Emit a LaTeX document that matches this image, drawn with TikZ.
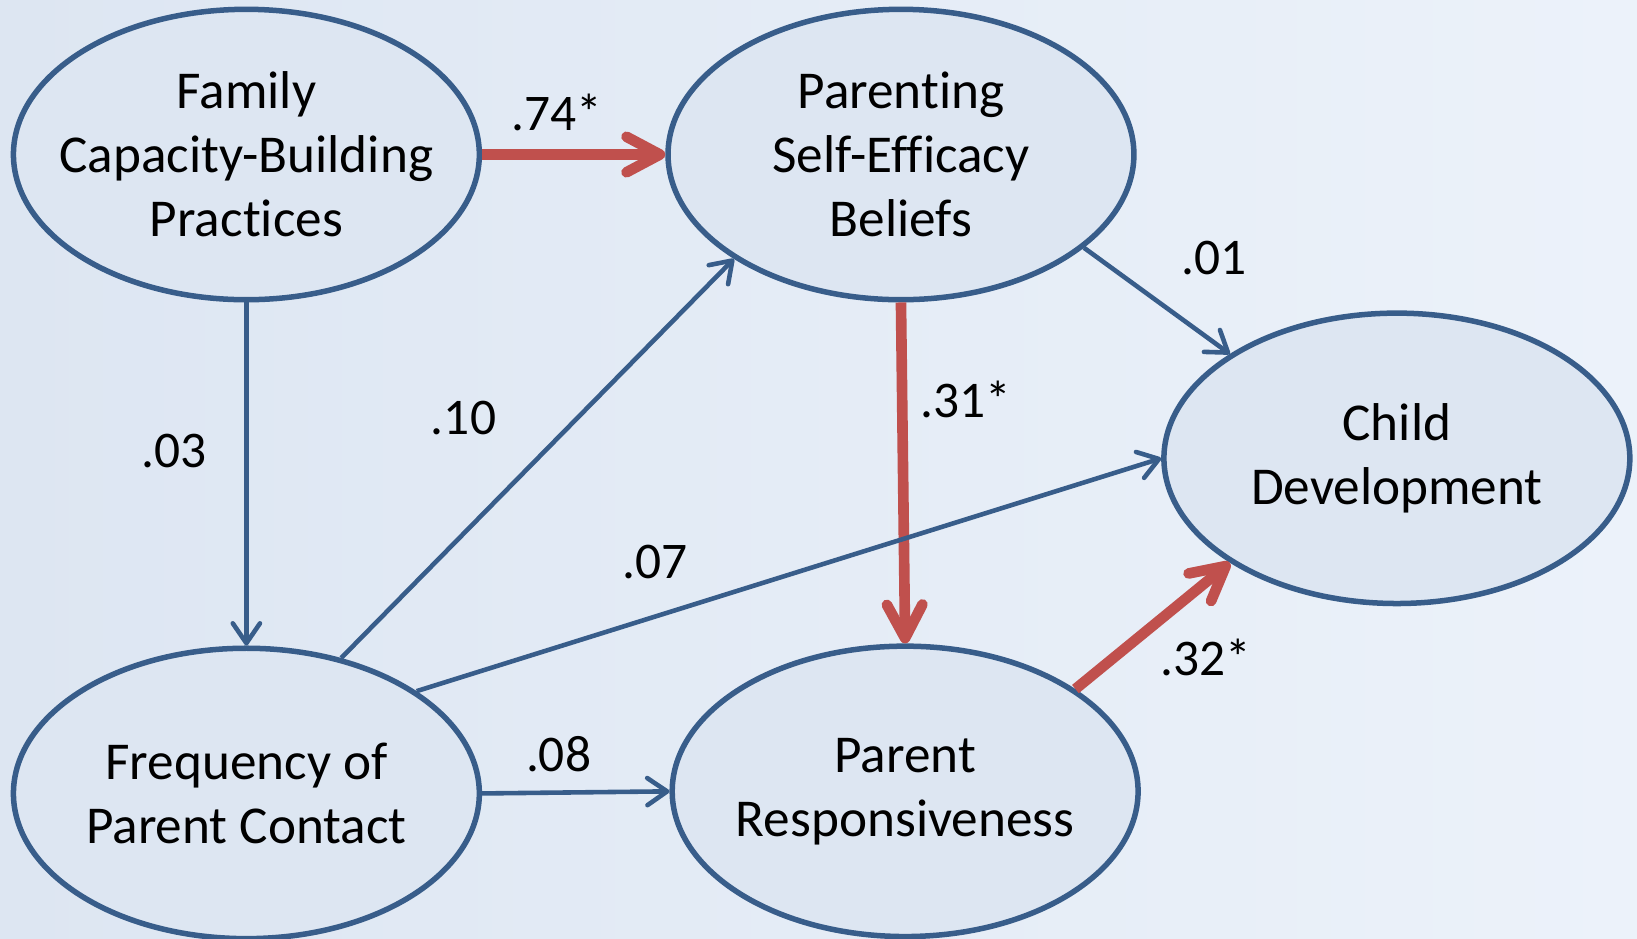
\documentclass[tikz,border=0pt]{standalone}
\usepackage{fontspec}
\setmainfont[Ligatures=NoCommon]{Carlito}
\usetikzlibrary{shapes.geometric,arrows.meta}
\definecolor{edgeblue}{RGB}{56,93,138}
\definecolor{edgered}{RGB}{192,80,77}
\definecolor{fillblue}{RGB}{221,230,242}
\definecolor{bgtop}{RGB}{221,230,242}
\definecolor{bgbot}{RGB}{236,242,250}
\tikzset{
  var/.style={ellipse,draw=edgeblue,line width=1.5pt,fill=fillblue,
    minimum width=4.46cm,minimum height=2.78cm,inner xsep=-1cm,inner ysep=0pt,
    align=center,font=\fontsize{14.5}{17.4}\selectfont},
  weak/.style={draw=edgeblue,line width=1.25pt,
    -{Straight Barb[round,length=1.9mm,width=2.6mm]}},
  strong/.style={draw=edgered,line width=2.9pt,
    -{Straight Barb[round,length=3.2mm,width=3.4mm]}},
  coef/.style={font=\fontsize{14}{16}\selectfont}
}
\begin{document}
\begin{tikzpicture}[x=0.01cm,y=-0.01cm]
  \shade[shading angle=135,left color=bgtop,right color=bgbot]
    (0,0) rectangle (1568,899.4);
  \useasboundingbox (0,0) rectangle (1568,899.4);
  \draw
    (236,148) node[var] (fcb){Family\\Capacity-Building\\Practices}
    (863,148) node[var] (pse){Parenting\\Self-Efficacy\\Beliefs}
    (1338,439) node[var] (cd){Child\\Development}
    (236,760) node[var] (fpc){Frequency of\\Parent Contact}
    (867,758) node[var] (pr){Parent\\Responsiveness};
  \begin{scope}
    \draw[strong] (fcb.east) to (pse.west);
    \draw[strong] (pse.south) to (pr.north);
    \draw[strong] (pr.31.7) to (cd.212);
    \draw[weak] (fcb.south) to (fpc.north);
    \draw[weak] (fpc.55.7) to (pse.212.2);
    \draw[weak] (fpc.31.5) to (cd.west);
    \draw[weak] (fpc.east) to (pr.west);
    \draw[weak] (pse.-27.5) to (cd.148.7);
  \end{scope}
  \node[coef] (l74) at (533,108) {.74*};
  \node[coef] (l03) at (167,432) {.03};
  \node[coef] (l10) at (444,400) {.10};
  \node[coef] (l01) at (1163,247) {.01};
  \node[coef] (l31) at (925,383) {.31*};
  \node[coef] (l07) at (627,538) {.07};
  \node[coef] (l08) at (535,722) {.08};
  \node[coef] (l32) at (1155,630) {.32*};
\end{tikzpicture}
\end{document}
